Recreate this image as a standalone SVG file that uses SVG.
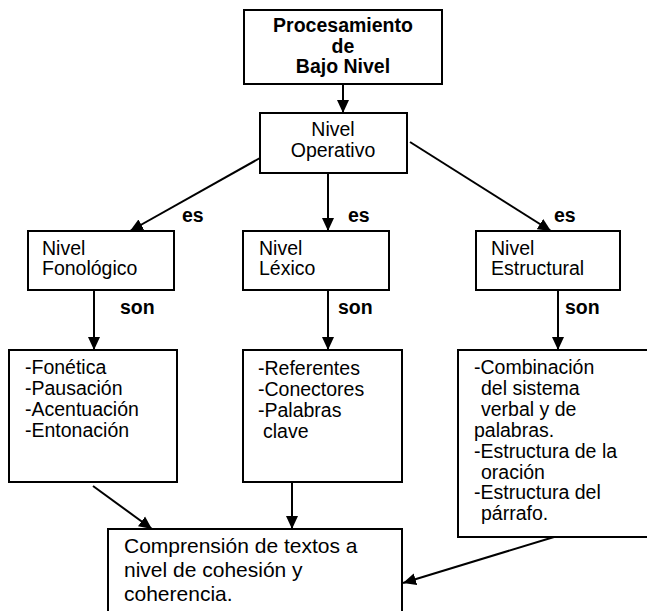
<svg xmlns="http://www.w3.org/2000/svg" width="647" height="611" viewBox="0 0 647 611">
<defs>
<style>
.box{fill:#fff;stroke:#000;stroke-width:2}
.t{font-family:"Liberation Sans",Arial,sans-serif;font-size:19.5px;fill:#000}
.b{font-family:"Liberation Sans",Arial,sans-serif;font-size:19.5px;font-weight:bold;fill:#000}
.big{font-family:"Liberation Sans",Arial,sans-serif;font-size:21px;fill:#000}
.c{stroke:#000;stroke-width:2;fill:none;marker-end:url(#ah)}
</style>
<marker id="ah" markerUnits="userSpaceOnUse" markerWidth="14" markerHeight="14" viewBox="0 0 14 14" refX="13" refY="7" orient="auto">
<path d="M0,1 L13,7 L0,13 Z" fill="#000"/>
</marker>
</defs>
<rect width="647" height="611" fill="#fff"/>
<g id="connectors">
<line class="c" x1="343" y1="84" x2="343" y2="113"/>
<line class="c" x1="260" y1="158" x2="130" y2="231"/>
<line class="c" x1="328" y1="173" x2="328" y2="231"/>
<line class="c" x1="410" y1="142" x2="551" y2="231"/>
<line class="c" x1="94" y1="290" x2="94" y2="350"/>
<line class="c" x1="328" y1="290" x2="328" y2="350"/>
<line class="c" x1="558" y1="290" x2="558" y2="350"/>
<line class="c" x1="93" y1="486" x2="152" y2="529"/>
<line class="c" x1="292" y1="483" x2="292" y2="529"/>
<line class="c" x1="554" y1="537" x2="403" y2="583"/>
<text class="b" x="182" y="222">es</text>
<text class="b" x="348" y="222">es</text>
<text class="b" x="554" y="222">es</text>
<text class="b" x="120" y="314">son</text>
<text class="b" x="338" y="314">son</text>
<text class="b" x="565" y="314">son</text>
</g>
<g id="procesamiento">
<rect class="box" x="244" y="10" width="198" height="74"/>
<text class="b" x="343" y="32" text-anchor="middle">Procesamiento</text>
<text class="b" x="343" y="53" text-anchor="middle">de</text>
<text class="b" x="343" y="73" text-anchor="middle">Bajo Nivel</text>
</g>
<g id="operativo">
<rect class="box" x="260" y="113" width="147" height="60"/>
<text class="t" x="333" y="136" text-anchor="middle">Nivel</text>
<text class="t" x="333" y="157" text-anchor="middle">Operativo</text>
</g>
<g id="fonologico">
<rect class="box" x="28" y="231" width="146" height="59"/>
<text class="t" x="42" y="255">Nivel</text>
<text class="t" x="42" y="275">Fonológico</text>
</g>
<g id="lexico">
<rect class="box" x="243" y="231" width="146" height="59"/>
<text class="t" x="259" y="255">Nivel</text>
<text class="t" x="259" y="275">Léxico</text>
</g>
<g id="estructural">
<rect class="box" x="476" y="231" width="144" height="59"/>
<text class="t" x="491" y="255">Nivel</text>
<text class="t" x="491" y="275">Estructural</text>
</g>
<g id="fonetica">
<rect class="box" x="9" y="350" width="168" height="132"/>
<text class="t" x="25" y="374">-Fonética</text>
<text class="t" x="25" y="395">-Pausación</text>
<text class="t" x="25" y="416">-Acentuación</text>
<text class="t" x="25" y="437">-Entonación</text>
</g>
<g id="referentes">
<rect class="box" x="243" y="350" width="159" height="132"/>
<text class="t" x="258" y="375">-Referentes</text>
<text class="t" x="258" y="396">-Conectores</text>
<text class="t" x="258" y="417">-Palabras</text>
<text class="t" x="263" y="438">clave</text>
</g>
<g id="combinacion">
<rect class="box" x="458" y="350" width="200" height="187"/>
<text class="t" x="474" y="374">-Combinación</text>
<text class="t" x="481" y="395">del sistema</text>
<text class="t" x="481" y="416">verbal y de</text>
<text class="t" x="474" y="437">palabras.</text>
<text class="t" x="474" y="458">-Estructura de la</text>
<text class="t" x="481" y="479">oración</text>
<text class="t" x="474" y="499">-Estructura del</text>
<text class="t" x="481" y="520">párrafo.</text>
</g>
<g id="comprension">
<rect class="box" x="108" y="529" width="294" height="100"/>
<text class="big" x="124" y="553">Comprensión de textos a</text>
<text class="big" x="124" y="577">nivel de cohesión y</text>
<text class="big" x="124" y="601">coherencia.</text>
</g>
</svg>
